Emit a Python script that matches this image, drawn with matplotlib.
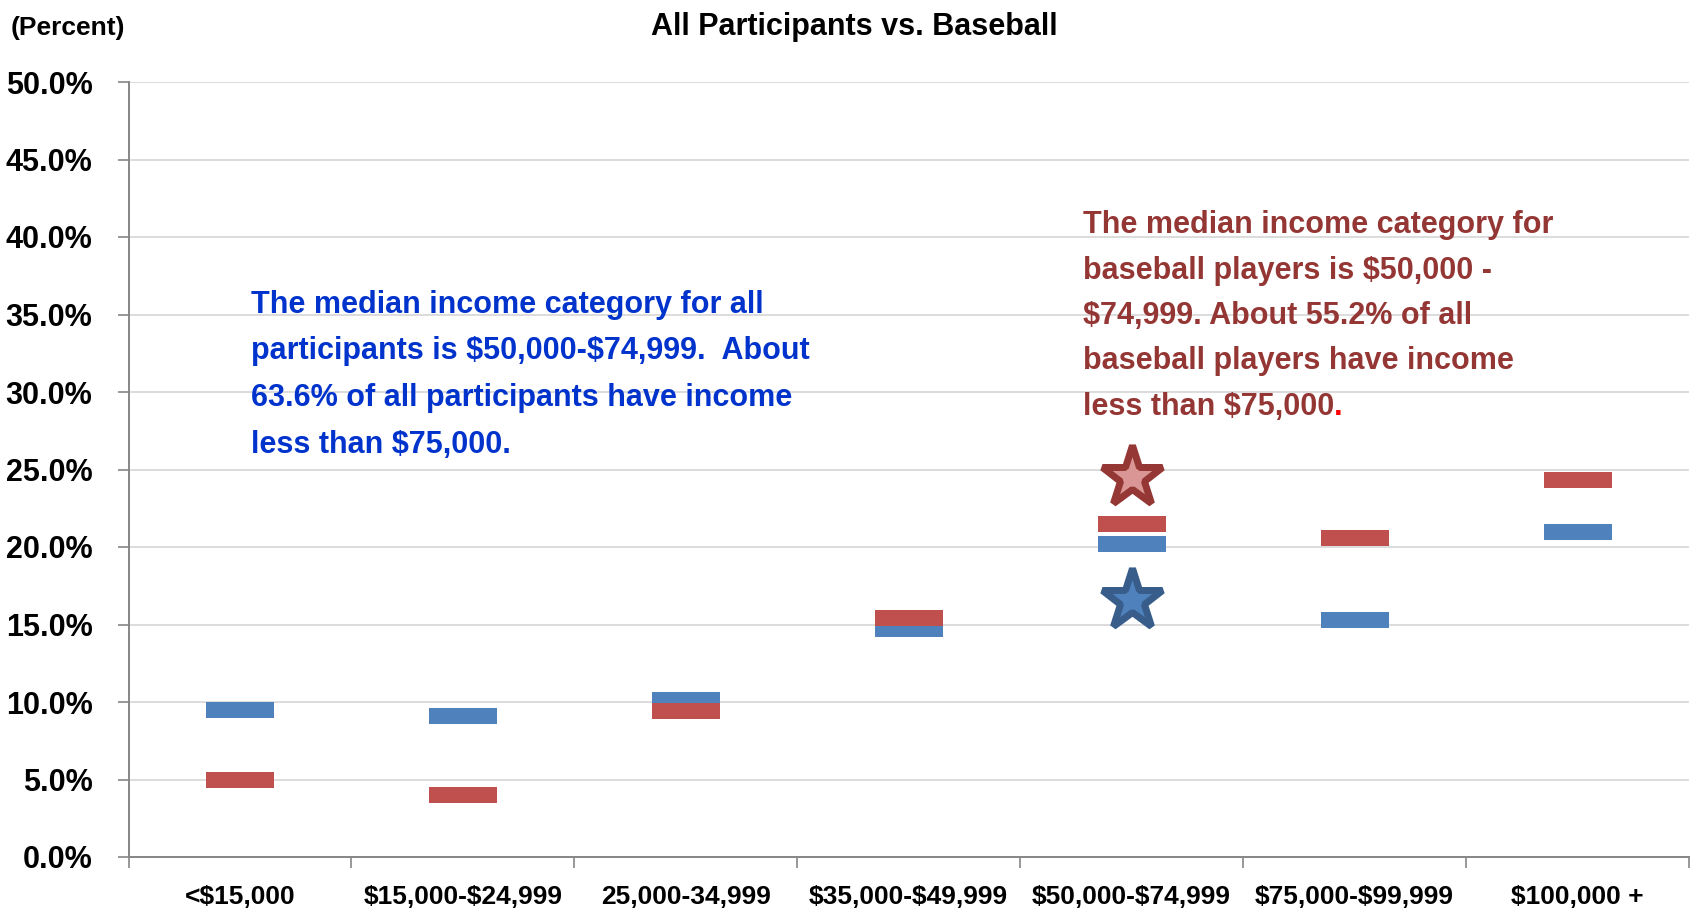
import matplotlib
matplotlib.use("Agg")
import matplotlib.pyplot as plt
from matplotlib import font_manager as fm
from matplotlib.ticker import FixedLocator, PercentFormatter

# Income brackets and share of each group (percent)
categories = ["<$15,000", "$15,000-$24,999", "25,000-34,999", "$35,000-$49,999",
              "$50,000-$74,999", "$75,000-$99,999", "$100,000 +"]
all_participants = [9.5, 9.1, 10.1, 14.7, 20.2, 15.3, 21.0]
baseball = [5.0, 4.0, 9.4, 15.4, 21.5, 20.6, 24.3]

# Median-bracket star markers
median_category = 4
median_all_star = 16.6
median_baseball_star = 24.5

y_ticks = [0, 5, 10, 15, 20, 25, 30, 35, 40, 45, 50]


def esc(s):
    # keep dollar signs literal (no mathtext)
    return s.replace("$", r"\$")


names = {f.name for f in fm.fontManager.ttflist}
if "Liberation Sans Narrow" in names:
    FONT, FS, FS_SMALL, FS_X = "Liberation Sans Narrow", 24, 22, 22
else:
    FONT, FS, FS_SMALL, FS_X = "Liberation Sans", 22, 19, 19
plt.rcParams["font.family"] = [FONT, "DejaVu Sans"]
plt.rcParams["font.weight"] = "bold"

W, H, DPI = 1694, 911, 100
fig = plt.figure(figsize=(W / DPI, H / DPI), dpi=DPI)
fig.patch.set_facecolor("white")

left, right, bottom, top = 128.5, 1689, 857, 82
ax = fig.add_axes([left / W, 1 - bottom / H, (right - left) / W, (bottom - top) / H])

BLUE = "#4F81BD"
RED = "#C0504D"

x = list(range(len(categories)))

# flat rectangular marker, width : height = 68 : 15.4
hw = 0.5
hh = 0.5 * 15.4 / 68
rect = [(-hw, -hh), (hw, -hh), (hw, hh), (-hw, hh), (-hw, -hh)]
msize = 68 * 72 / DPI

ax.plot(x, all_participants, linestyle="none", marker=rect, markersize=msize,
        color=BLUE, markeredgewidth=0, zorder=3)
ax.plot(x, baseball, linestyle="none", marker=rect, markersize=msize,
        color=RED, markeredgewidth=0, zorder=4)

star_ms = 64 * 72 / DPI
star_mew = 7 * 72 / DPI
ax.plot([median_category], [median_baseball_star], linestyle="none", marker="*",
        markersize=star_ms, markerfacecolor="#D99694", markeredgecolor="#953735",
        markeredgewidth=star_mew, zorder=5)
ax.plot([median_category], [median_all_star], linestyle="none", marker="*",
        markersize=star_ms, markerfacecolor="#4F81BD", markeredgecolor="#385D8A",
        markeredgewidth=star_mew, zorder=5)

ax.set_xlim(-0.5, len(categories) - 0.5)
ax.set_ylim(0, 50)
ax.yaxis.set_major_locator(FixedLocator(y_ticks))
ax.yaxis.set_major_formatter(PercentFormatter(decimals=1))
ax.set_xticks(x)
ax.set_xticklabels([esc(c) for c in categories])
ax.xaxis.set_minor_locator(FixedLocator([i - 0.5 for i in range(len(categories) + 1)]))

ax.grid(axis="y", color="#D9D9D9", linewidth=1.3, zorder=0)
ax.set_axisbelow(True)
for s in ("top", "right"):
    ax.spines[s].set_visible(False)
for s in ("left", "bottom"):
    ax.spines[s].set_color("#868686")
    ax.spines[s].set_linewidth(1.4)

ax.tick_params(axis="y", which="major", length=8, width=1.2, color="#868686",
               pad=18, labelsize=FS)
ax.tick_params(axis="x", which="major", length=0, pad=20, labelsize=FS_X)
ax.tick_params(axis="x", which="minor", length=8, width=1.2, color="#868686")
for lab in ax.get_yticklabels() + ax.get_xticklabels():
    lab.set_fontweight("bold")


def fy(py):
    return 1 - py / H


fig.text(854 / W, fy(35), "All Participants vs. Baseball", ha="center",
         va="baseline", fontsize=FS, fontweight="bold", color="black")
fig.text(11 / W, fy(35), "(Percent)", ha="left", va="baseline",
         fontsize=FS_SMALL, fontweight="bold", color="black")

blue_lines = ["The median income category for all",
              "participants is $50,000-$74,999.  About",
              "63.6% of all participants have income",
              "less than $75,000."]
for i, line in enumerate(blue_lines):
    fig.text(251 / W, fy(313 + i * 46.5), esc(line), ha="left", va="baseline",
             fontsize=FS, fontweight="bold", color="#0033CC")

red_lines = ["The median income category for",
             "baseball players is $50,000 -",
             "$74,999. About 55.2% of all",
             "baseball players have income",
             "less than $75,000"]
last = None
for i, line in enumerate(red_lines):
    last = fig.text(1083 / W, fy(233 + i * 45.5), esc(line), ha="left", va="baseline",
                    fontsize=FS, fontweight="bold", color="#943634")
ax.annotate(".", xy=(1, 0), xycoords=last, ha="left", va="bottom",
            fontsize=FS, fontweight="bold", color="#FF0000", annotation_clip=False)

fig.savefig("out.png", dpi=DPI, facecolor="white")
